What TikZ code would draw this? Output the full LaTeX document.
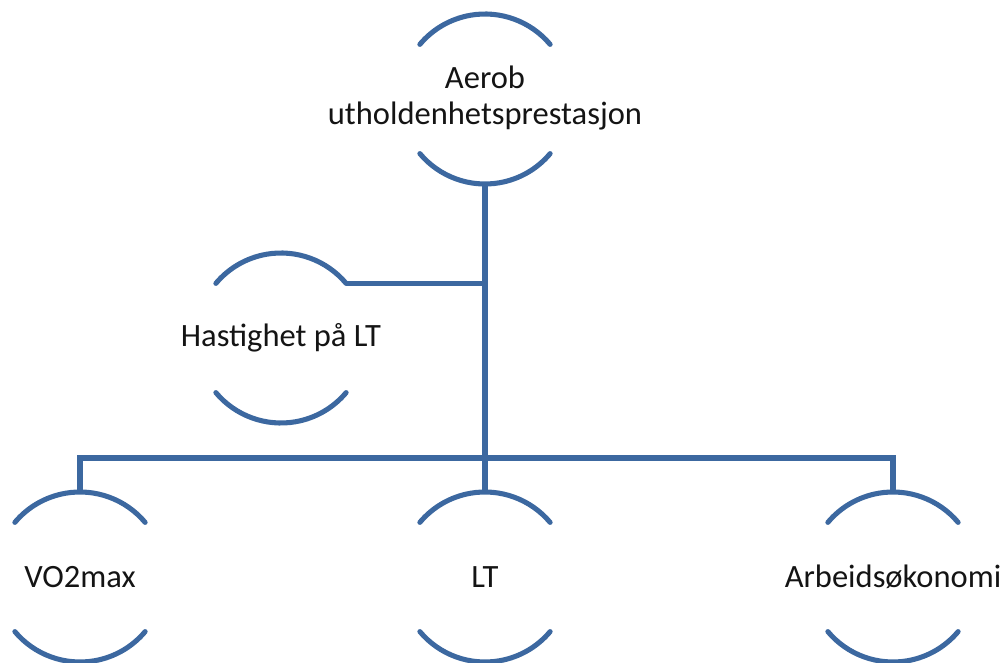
\documentclass[tikz,border=0pt]{standalone}
\usepackage{fontspec}
\setmainfont{Carlito}
\definecolor{arcblue}{RGB}{60,104,160}
\definecolor{textdark}{RGB}{20,20,20}
\tikzset{
  unit/.style={x=0.75pt,y=0.75pt},
  member/.style={circle,minimum size=127.5pt,inner sep=0pt,outer sep=0pt,text=textdark,font=\fontsize{24.4}{27}\selectfont},
  arcline/.style={draw=arcblue,line width=3.8pt,line cap=round},
  conn/.style={draw=arcblue,line width=3.8pt},
}
\newcommand{\memberarcs}[1]{%
  \draw[arcline] (#1.40) arc[start angle=40,end angle=140,radius=63.75pt];
  \draw[arcline] (#1.220) arc[start angle=220,end angle=320,radius=63.75pt];}
\begin{document}
\begin{tikzpicture}[unit]
\useasboundingbox (0,0) rectangle (1001,-663);
\node[member] (top) at (485,-99) {\makebox[0pt]{\raisebox{-2.5pt}{\begin{tabular}{@{}c@{}}Aerob\\utholdenhetsprestasjon\end{tabular}}}};
\node[member] (hast) at (281,-338) {\makebox[0pt]{\raisebox{-1pt}{Hastighet på LT}}};
\node[member] (vo) at (80,-577) {\makebox[0pt]{\raisebox{-1.5pt}{VO2max}}};
\node[member] (lt) at (485,-577) {\makebox[0pt]{\raisebox{-1.5pt}{LT}}};
\node[member] (ab) at (893,-577) {\makebox[0pt]{\raisebox{-1.5pt}{Arbeidsøkonomi}}};
\foreach \n in {top,hast,vo,lt,ab} {\memberarcs{\n}}
\coordinate (bus) at (485,-458);
\draw[conn] (top.south) -- (lt.north);
\draw[conn] (hast.40) -- (top.south |- hast.40);
\draw[conn] (vo.north) |- (bus) -| (ab.north);
\end{tikzpicture}
\end{document}
